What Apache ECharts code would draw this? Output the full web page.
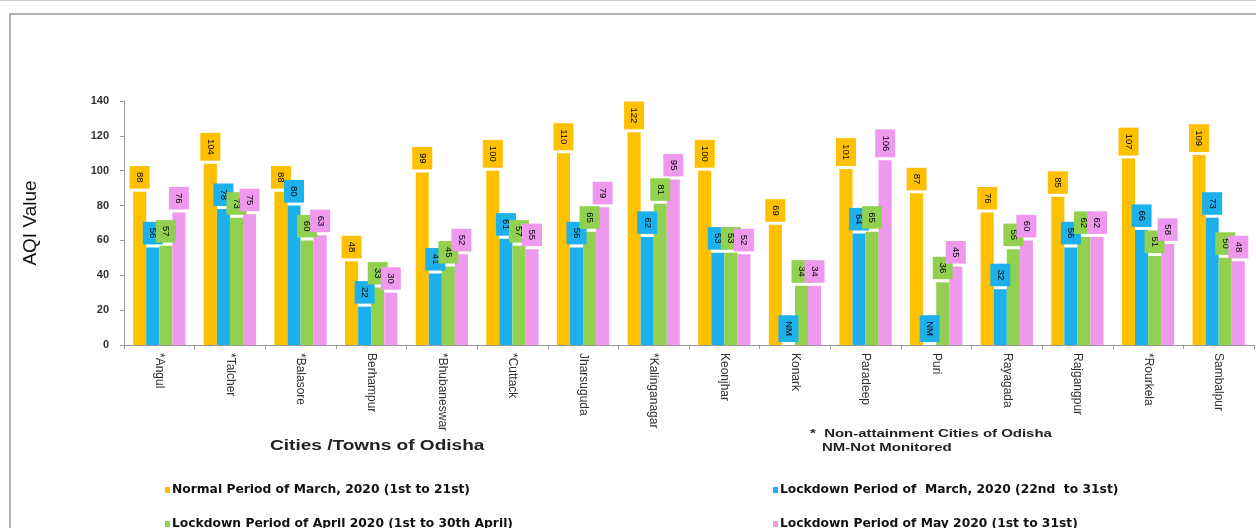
<!DOCTYPE html>
<html>
<head>
<meta charset="utf-8">
<title>AQI of Cities / Towns of Odisha</title>
<script src="https://cdn.jsdelivr.net/npm/echarts@6/dist/echarts.min.js"></script>
<style>
  html, body { margin: 0; padding: 0; background: #fff; }
  #chart { width: 1256px; height: 528px; }
</style>
</head>
<body>
<div id="chart"></div>
<script>
// Cities / towns (* = non-attainment city)
const cities = ['*Angul', '*Talcher', '*Balasore', 'Berhampur', '*Bhubaneswar', '*Cuttack',
  'Jharsuguda', '*Kalinganagar', 'Keonjhar', 'Konark', 'Paradeep', 'Puri', 'Rayagada',
  'Rajgangpur', '*Rourkela', 'Sambalpur'];

// AQI values per period (null = not monitored)
const normalMarch   = [88, 104, 88, 48, 99, 100, 110, 122, 100, 69, 101, 87, 76, 85, 107, 109];
const lockdownMarch = [56, 78, 80, 22, 41, 61, 56, 62, 53, null, 64, null, 32, 56, 66, 73];
const lockdownApril = [57, 73, 60, 33, 45, 57, 65, 81, 53, 34, 65, 36, 55, 62, 51, 50];
const lockdownMay   = [76, 75, 63, 30, 52, 55, 79, 95, 52, 34, 106, 45, 60, 62, 58, 48];

const yTicks = { min: 0, max: 140, interval: 20 };

const seriesNames = [
  'Normal Period of March, 2020 (1st to 21st)',
  'Lockdown Period of  March, 2020 (22nd  to 31st)',
  'Lockdown Period of April 2020 (1st to 30th April)',
  'Lockdown Period of May 2020 (1st to 31st)'
];
const colors = ['#FFC000', '#1CB0EC', '#92D050', '#EE99EE'];
const seriesData = [normalMarch, lockdownMarch, lockdownApril, lockdownMay];

const FONT = '"Liberation Sans", Arial, sans-serif';
const WIDE = '"DejaVu Sans", Verdana, sans-serif';

function barSeries(i) {
  const data = seriesData[i].map(v => v === null
    ? { value: 0, label: { formatter: 'NM' } }
    : v);
  return {
    name: seriesNames[i],
    type: 'bar',
    data: data,
    barGap: '0%',
    barCategoryGap: '26%',
    itemStyle: { color: colors[i] },
    label: {
      show: true,
      position: 'top',
      distance: 3,
      rotate: -90,
      align: 'right',
      verticalAlign: 'middle',
      fontFamily: FONT,
      fontSize: 9.5,
      color: '#000',
      backgroundColor: colors[i],
      padding: [5, 6]
    }
  };
}

function legendAt(i, left, top) {
  return {
    data: [seriesNames[i]],
    left: left,
    top: top,
    icon: 'rect',
    itemWidth: 5,
    itemHeight: 6,
    itemGap: 2,
    selectedMode: false,
    textStyle: { fontFamily: WIDE, fontSize: 12.3, fontWeight: 'bold', color: '#111', padding: [0, 0, 0, -3] }
  };
}

const chart = echarts.init(document.getElementById('chart'), null, { renderer: 'canvas' });

chart.setOption({
  animation: false,
  backgroundColor: '#fff',
  color: colors,
  grid: { left: 124, right: 2, top: 101, bottom: 183, containLabel: false },
  legend: [
    legendAt(0, 160, 479),
    legendAt(1, 768, 479),
    legendAt(2, 160, 513),
    legendAt(3, 768, 513)
  ],
  xAxis: {
    type: 'category',
    data: cities,
    axisLine: { lineStyle: { color: '#999' } },
    axisTick: { show: true, length: 4, lineStyle: { color: '#999' } },
    axisLabel: {
      rotate: -90,
      margin: 8,
      fontFamily: FONT,
      fontSize: 12,
      color: '#333'
    }
  },
  yAxis: {
    type: 'value',
    min: yTicks.min,
    max: yTicks.max,
    interval: yTicks.interval,
    name: 'AQI Value',
    nameLocation: 'middle',
    nameGap: 84,
    nameRotate: 90,
    nameTextStyle: { fontFamily: FONT, fontSize: 19, color: '#111' },
    axisLine: { show: true, lineStyle: { color: '#999' } },
    axisTick: { show: true, length: 4, lineStyle: { color: '#999' } },
    splitLine: { show: false },
    axisLabel: { fontFamily: FONT, fontSize: 11, fontWeight: 'bold', color: '#333', margin: 15 }
  },
  graphic: [
    { type: 'line', shape: { x1: 0, y1: 0.5, x2: 1256, y2: 0.5 }, style: { stroke: '#ccc', lineWidth: 1 }, silent: true },
    { type: 'rect', shape: { x: 10, y: 14, width: 1260, height: 530 }, style: { fill: 'none', stroke: '#999', lineWidth: 1.5 }, silent: true },
    { type: 'text', x: 270, y: 439, scaleX: 1.36, style: { text: 'Cities /Towns of Odisha', font: 'bold 14px ' + FONT, fill: '#222' } },
    { type: 'text', x: 810, y: 428, scaleX: 1.36, style: { text: '*  Non-attainment Cities of Odisha', font: 'bold 11px ' + FONT, fill: '#222' } },
    { type: 'text', x: 822, y: 442, scaleX: 1.36, style: { text: 'NM-Not Monitored', font: 'bold 11px ' + FONT, fill: '#222' } }
  ],
  series: [0, 1, 2, 3].map(barSeries)
});
</script>
</body>
</html>
